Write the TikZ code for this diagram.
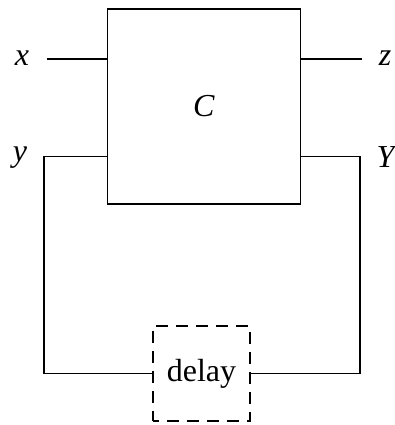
\documentclass[tikz,border=0pt]{standalone}
\usepackage{fontspec}
\setmainfont{Liberation Serif}
\begin{document}
\begin{tikzpicture}[x=0.5pt,y=-0.5pt,line width=0.55pt,
  every node/.style={font=\fontsize{16}{19}\selectfont},
  block/.style={draw,minimum width=96.5pt,minimum height=97.5pt,inner sep=0pt},
  delaybox/.style={draw,dash pattern=on 6pt off 4pt,dash phase=3pt,minimum width=48.5pt,minimum height=47.5pt,inner sep=0pt}]
  \useasboundingbox (0,0) rectangle (395,425);
  % blocks
  \node[block] (C) at (204,106.5) {\textit{C}};
  \node[delaybox] (D) at (201.5,373.5) {delay};
  % port ends
  \coordinate (xl) at (47,59);
  \coordinate (zl) at (362,59);
  \coordinate (yl) at (44,156.5);
  \coordinate (Yl) at (360,156.5);
  \node (xlab) at (22,58) {\textit{x}};
  \node (zlab) at (385,58) {\textit{z}};
  \node (ylab) at (20,158) {\textit{y}};
  \node (Ylab) at (387,157) {\textit{Y}};
  % connectors
  \draw (xl) -- (xl -| C.west);
  \draw (C.east |- zl) -- (zl);
  \draw (yl -| C.west) -- (yl) |- (D.west);
  \draw (Yl -| C.east) -- (Yl) |- (D.east);
\end{tikzpicture}
\end{document}
